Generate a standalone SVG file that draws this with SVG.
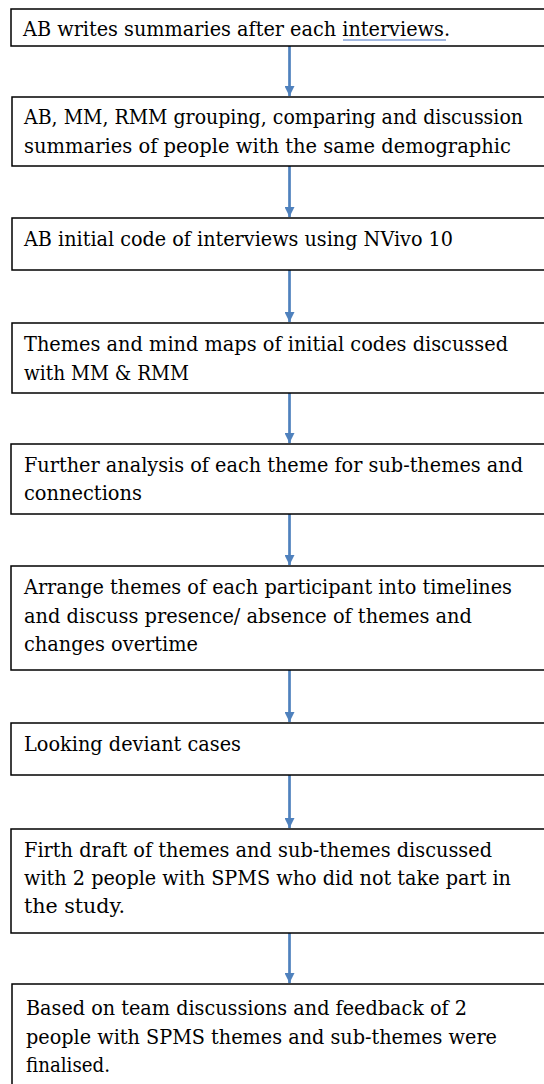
<svg xmlns="http://www.w3.org/2000/svg" width="544" height="1084" viewBox="0 0 544 1084">
<style>
.box{fill:#ffffff;stroke:#000000;stroke-width:1.5}
.t{font-family:"DejaVu Serif","Liberation Serif",serif;font-size:19.5px;fill:#000000}
.con{stroke:#4F81BD;stroke-width:2.7;fill:none}
</style>
<defs>
<marker id="ah" markerUnits="userSpaceOnUse" markerWidth="10" markerHeight="10" refX="10" refY="5" orient="auto">
<path d="M0,0 L10,5 L0,10 Z" fill="#4F81BD"/>
</marker>
</defs>
<rect width="544" height="1084" fill="#ffffff"/>
<g id="connectors">
<line class="con" x1="289.5" y1="46" x2="289.5" y2="96" marker-end="url(#ah)"/>
<line class="con" x1="289.5" y1="166" x2="289.5" y2="217" marker-end="url(#ah)"/>
<line class="con" x1="289.5" y1="270" x2="289.5" y2="322" marker-end="url(#ah)"/>
<line class="con" x1="289.5" y1="393" x2="289.5" y2="443" marker-end="url(#ah)"/>
<line class="con" x1="289.5" y1="514" x2="289.5" y2="565" marker-end="url(#ah)"/>
<line class="con" x1="289.5" y1="670" x2="289.5" y2="722" marker-end="url(#ah)"/>
<line class="con" x1="289.5" y1="775" x2="289.5" y2="828" marker-end="url(#ah)"/>
<line class="con" x1="289.5" y1="933" x2="289.5" y2="983" marker-end="url(#ah)"/>
</g>
<g id="n1">
<rect class="box" x="11" y="9" width="560" height="37"/>
<text class="t" x="23" y="36" textLength="427" lengthAdjust="spacingAndGlyphs">AB writes summaries after each interviews.</text>
<line x1="343" y1="40" x2="446" y2="40" stroke="#4472C4" stroke-width="1"/>
</g>
<g id="n2">
<rect class="box" x="12" y="97" width="560" height="69"/>
<text class="t" x="24" y="124" textLength="499" lengthAdjust="spacingAndGlyphs">AB, MM, RMM grouping, comparing and discussion</text>
<text class="t" x="24" y="153" textLength="487" lengthAdjust="spacingAndGlyphs">summaries of people with the same demographic</text>
</g>
<g id="n3">
<rect class="box" x="12" y="218" width="560" height="52"/>
<text class="t" x="24" y="246" textLength="429" lengthAdjust="spacingAndGlyphs">AB initial code of interviews using NVivo 10</text>
</g>
<g id="n4">
<rect class="box" x="12" y="323" width="560" height="70"/>
<text class="t" x="24" y="351" textLength="484" lengthAdjust="spacingAndGlyphs">Themes and mind maps of initial codes discussed</text>
<text class="t" x="24" y="380" textLength="165" lengthAdjust="spacingAndGlyphs">with MM &amp; RMM</text>
</g>
<g id="n5">
<rect class="box" x="11" y="444" width="560" height="70"/>
<text class="t" x="24" y="472" textLength="499" lengthAdjust="spacingAndGlyphs">Further analysis of each theme for sub-themes and</text>
<text class="t" x="24" y="500" textLength="118" lengthAdjust="spacingAndGlyphs">connections</text>
</g>
<g id="n6">
<rect class="box" x="11" y="566" width="560" height="104"/>
<text class="t" x="24" y="594" textLength="488" lengthAdjust="spacingAndGlyphs">Arrange themes of each participant into timelines</text>
<text class="t" x="24" y="623" textLength="448" lengthAdjust="spacingAndGlyphs">and discuss presence/ absence of themes and</text>
<text class="t" x="24" y="651" textLength="174" lengthAdjust="spacingAndGlyphs">changes overtime</text>
</g>
<g id="n7">
<rect class="box" x="11" y="723" width="560" height="52"/>
<text class="t" x="24" y="751" textLength="217" lengthAdjust="spacingAndGlyphs">Looking deviant cases</text>
</g>
<g id="n8">
<rect class="box" x="11" y="829" width="560" height="104"/>
<text class="t" x="24" y="857" textLength="468" lengthAdjust="spacingAndGlyphs">Firth draft of themes and sub-themes discussed</text>
<text class="t" x="24" y="885" textLength="487" lengthAdjust="spacingAndGlyphs">with 2 people with SPMS who did not take part in</text>
<text class="t" x="24" y="913" textLength="101" lengthAdjust="spacingAndGlyphs">the study.</text>
</g>
<g id="n9">
<rect class="box" x="12" y="984" width="560" height="120"/>
<text class="t" x="26" y="1015" textLength="441" lengthAdjust="spacingAndGlyphs">Based on team discussions and feedback of 2</text>
<text class="t" x="26" y="1044" textLength="471" lengthAdjust="spacingAndGlyphs">people with SPMS themes and sub-themes were</text>
<text class="t" x="26" y="1072" textLength="84" lengthAdjust="spacingAndGlyphs">finalised.</text>
</g>
</svg>
